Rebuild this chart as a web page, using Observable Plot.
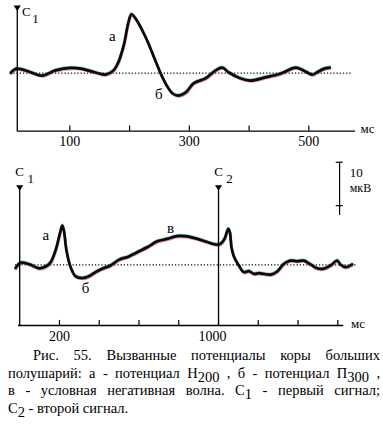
<!DOCTYPE html>
<html><head><meta charset="utf-8">
<script src="https://cdn.jsdelivr.net/npm/d3@7"></script>
<script src="https://cdn.jsdelivr.net/npm/@observablehq/plot@0.6"></script>
<style>
body{margin:0;background:#fff;width:383px;height:428px;overflow:hidden}
svg{display:block}
#cap{font-family:"Liberation Serif","Times New Roman",Tinos,"DejaVu Serif",serif;font-size:14.5px;line-height:17.5px;color:#000;padding:0 3px 0 8px}
#cap div{text-align:justify;text-align-last:justify}
#cap div.last{text-align-last:left}
#cap div.first{text-indent:25px}
.s{position:relative;top:4px}
</style></head><body>
<div id="top"></div><div id="bot"></div>
<div id="cap">
<div class="first">Рис. 55. Вызванные потенциалы коры больших</div>
<div>полушарий: а - потенциал Н<span class="s">200</span> , б - потенциал П<span class="s">300</span> ,</div>
<div>в - условная негативная волна. С<span class="s">1</span> - первый сигнал;</div>
<div class="last">С<span class="s">2</span> - второй сигнал.</div>
</div>
<script>
// ---- data (ms, µV; negative = up) ----
const topTime = [1,7,12,31,53,76,101,118,143,160,173,181,190,198,203,210,227,243,252,262,272,282,294,307,327,344,355,366,386,402,427,453,478,491,506,516,526,535];
const topAmp  = [-0.1,-1.0,-1.3,-0.5,0.7,-0.8,-1.5,-1.3,-0.2,0.4,-0.8,-3.1,-7.9,-14.5,-16.8,-15.6,-10.2,-3.6,0.1,3.5,5.8,6.4,5.5,2.9,1.5,-0.8,-1.6,-0.2,1.5,2.1,1.2,0.1,-1.6,-0.8,0.4,-0.5,-1.3,-1.6];
const topTicks = [100,200,300,400,500];
const topTickLabels = [100,300,500];
const topStimulus = 12;
const topLabels = [{t:"а",x:171,y:-10.6},{t:"б",x:249,y:6.0}];

const botTime = [-21,4,29,63,96,130,155,180,202,214,222,235,256,281,314,348,381,415,457,498,549,591,641,692,742,792,843,893,943,985,1010,1030,1049,1057,1065,1077,1102,1127,1152,1178,1203,1228,1262,1295,1329,1362,1396,1429,1463,1496,1530,1563,1597,1613,1639,1672];
const botAmp  = [0.9,-0.6,-0.5,0.2,1.0,0.5,-0.7,-4.1,-8.9,-11.2,-9.8,-4.1,0.7,3.3,3.8,3.3,2.1,1.1,0.2,-1.4,-2.4,-3.6,-5.0,-6.7,-7.4,-8.2,-8.1,-7.4,-6.5,-5.8,-6.0,-7.4,-10.3,-9.3,-5.0,-2.4,0.2,2.1,1.8,2.6,2.4,2.6,2.8,1.9,-0.3,-1.2,-1.0,-1.2,-0.1,1.0,1.1,0.2,-1.2,-0.1,0.7,-0.1];
const botTicks = [200,400,600,800,1000,1200,1400,1600];
const botTickLabels = [200,1000];
const botStimuli = [{t:0,n:"1"},{t:1000,n:"2"}];
const botLabels = [{t:"а",x:132,y:-8.5},{t:"б",x:331,y:6.8},{t:"в",x:759,y:-10.6}];
const scaleBar = 10; // µV

const topData = topTime.map((t,i)=>({t, v:topAmp[i]}));
const botData = botTime.map((t,i)=>({t, v:botAmp[i]}));

const SERIF = "'Liberation Serif','Times New Roman',Tinos,'DejaVu Serif',serif";
const tri = {draw(ctx){ctx.moveTo(-3.6,-2.6);ctx.lineTo(3.6,-2.6);ctx.lineTo(0,2.8);ctx.closePath();}};

function curve(data){
  return [
    Plot.line(data,{x:"t",y:"v",curve:"catmull-rom",stroke:"#2a9a60",strokeWidth:2.4,dy:-0.9,strokeOpacity:0.55}),
    Plot.line(data,{x:"t",y:"v",curve:"catmull-rom",stroke:"#c8407e",strokeWidth:2.4,dy:1,dx:0.5,strokeOpacity:0.6}),
    Plot.line(data,{x:"t",y:"v",curve:"catmull-rom",stroke:"#0a0a0a",strokeWidth:2.7})
  ];
}

// ---- top panel ----
const topAxisY = 16.57;
const topPlot = Plot.plot({
  width:383, height:150, margin:0,
  style:{background:"#fff", fontFamily:SERIF},
  x:{domain:[0,500], range:[9.6,308.35], axis:null},
  y:{domain:[-20.77,topAxisY], range:[0,130.7], axis:null},
  marks:[
    Plot.ruleY([0],{x1:1,x2:573,stroke:"#000",strokeWidth:1.2,strokeDasharray:"1.2,2"}),
    ...curve(topData),
    Plot.ruleY([topAxisY],{x1:topStimulus,x2:578,stroke:"#000",strokeWidth:1.3}),
    Plot.ruleX([topStimulus],{y1:-18.6,y2:topAxisY,stroke:"#000",strokeWidth:1.3}),
    Plot.dot([topStimulus],{x:d=>d,y:-18.6,symbol:tri,fill:"#000",stroke:null}),
    Plot.text(["C"],{x:27,y:-17.5,fontSize:13,fontFamily:SERIF}),
    Plot.text(["1"],{x:42.5,y:-15.6,fontSize:13,fontFamily:SERIF}),
    Plot.ruleX(topTicks,{y1:topAxisY,y2:topAxisY-1.45,stroke:"#000",strokeWidth:1.2}),
    Plot.text(topTickLabels,{x:d=>d,y:topAxisY,text:d=>String(d),dy:10,fontSize:14,fontFamily:SERIF}),
    Plot.text(["мс"],{x:598,y:topAxisY,dy:-2.5,fontSize:13,fontFamily:SERIF}),
    Plot.text(topLabels,{x:"x",y:"y",text:"t",fontSize:15,fontFamily:SERIF})
  ]
});
document.getElementById("top").append(topPlot);

// ---- bottom panel ----
const botAxisY = 17.34;
const botPlot = Plot.plot({
  width:383, height:197, margin:0,
  style:{background:"#fff", fontFamily:SERIF},
  x:{domain:[0,1600], range:[19.2,337.3], axis:null},
  y:{domain:[-32.66,botAxisY], range:[0,175], axis:null},
  marks:[
    Plot.ruleY([0],{x1:-21,x2:1700,stroke:"#000",strokeWidth:1.2,strokeDasharray:"1.2,2"}),
    ...curve(botData),
    Plot.ruleY([botAxisY],{x1:-6,x2:1630,stroke:"#000",strokeWidth:1.3}),
    Plot.ruleX(botStimuli,{x:"t",y1:-22,y2:botAxisY,stroke:"#000",strokeWidth:1.3}),
    Plot.dot(botStimuli,{x:"t",y:-22,symbol:tri,fill:"#000",stroke:null}),
    Plot.text(botStimuli,{x:"t",y:-26.6,text:()=>"C",dx:0,fontSize:13,fontFamily:SERIF}),
    Plot.text(botStimuli,{x:"t",y:-24.6,text:"n",dx:11,fontSize:13,fontFamily:SERIF}),
    Plot.ruleX(botTicks,{y1:botAxisY,y2:botAxisY-1.45,stroke:"#000",strokeWidth:1.2}),
    Plot.text(botTickLabels.filter(d=>d<1000),{x:d=>d,y:botAxisY,text:d=>String(d),dy:11,fontSize:14,fontFamily:SERIF}),
    Plot.text(botTickLabels.filter(d=>d>=1000),{x:d=>d,y:botAxisY,text:d=>String(d),dy:11,dx:-6,fontSize:14,fontFamily:SERIF}),
    Plot.text(["мс"],{x:1702,y:botAxisY,dy:-1.5,fontSize:13,fontFamily:SERIF}),
    Plot.text(botLabels,{x:"x",y:"y",text:"t",fontSize:15,fontFamily:SERIF}),
    // 10 µV calibration bar
    Plot.ruleX([1609],{y1:-29.3,y2:-29.3+scaleBar+5.2,stroke:"#000",strokeWidth:1.2}),
    Plot.ruleY([-29.3,-29.3+scaleBar+2.4],{x1:1592,x2:1627,stroke:"#000",strokeWidth:1.2}),
    Plot.text([scaleBar],{x:1693,y:-26.2,text:d=>String(d),fontSize:13,fontFamily:SERIF}),
    Plot.text(["мкВ"],{x:1714,y:-21.9,fontSize:12,fontFamily:SERIF})
  ]
});
document.getElementById("bot").append(botPlot);
</script>
</body></html>
